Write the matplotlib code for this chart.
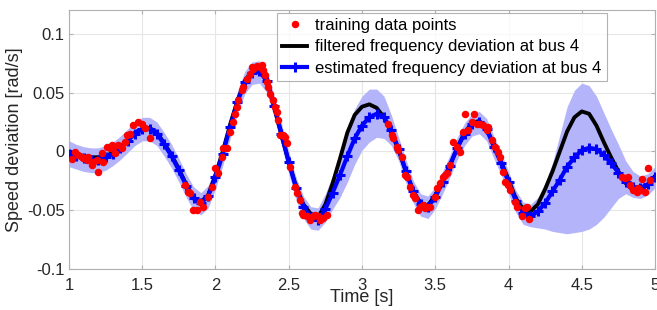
import numpy as np
import matplotlib
matplotlib.use("Agg")
import matplotlib.pyplot as plt

plt.rcParams["font.family"] = ["Liberation Sans", "DejaVu Sans"]

# time grid of the curves (s)
t = np.linspace(1.0, 5.0, 81)

filtered = [
    0.000, -0.002, -0.004, -0.005, -0.005, -0.004, -0.001, 0.004, 0.010, 0.016,
    0.019, 0.020, 0.016, 0.007, -0.003, -0.015, -0.028, -0.039, -0.043, -0.037,
    -0.020, 0.000, 0.023, 0.043, 0.060, 0.068, 0.069, 0.060, 0.038, 0.014,
    -0.009, -0.030, -0.045, -0.053, -0.056, -0.045, -0.027, -0.006, 0.016, 0.031,
    0.038, 0.040, 0.037, 0.029, 0.016, 0.001, -0.017, -0.034, -0.044, -0.046,
    -0.037, -0.025, -0.012, 0.003, 0.016, 0.024, 0.026, 0.020, 0.005, -0.009,
    -0.024, -0.040, -0.049, -0.051, -0.045, -0.032, -0.017, 0.000, 0.017, 0.029,
    0.034, 0.032, 0.022, 0.008, -0.005, -0.017, -0.027, -0.033, -0.033, -0.028,
    -0.021,
]

estimated = [
    -0.002, -0.004, -0.006, -0.007, -0.007, -0.005, -0.002, 0.003, 0.009, 0.015,
    0.019, 0.019, 0.015, 0.006, -0.004, -0.016, -0.029, -0.040, -0.044, -0.038,
    -0.022, -0.002, 0.021, 0.042, 0.059, 0.067, 0.068, 0.060, 0.039, 0.015,
    -0.009, -0.031, -0.047, -0.056, -0.058, -0.049, -0.035, -0.020, -0.004, 0.011,
    0.022, 0.029, 0.032, 0.029, 0.018, 0.002, -0.017, -0.034, -0.045, -0.047,
    -0.039, -0.026, -0.012, 0.003, 0.015, 0.023, 0.025, 0.019, 0.004, -0.010,
    -0.026, -0.042, -0.052, -0.055, -0.051, -0.044, -0.034, -0.024, -0.013, -0.005,
    0.001, 0.003, 0.002, -0.003, -0.010, -0.018, -0.026, -0.030, -0.031, -0.028,
    -0.022,
]

band_upper = [
    0.009, 0.006, 0.004, 0.003, 0.003, 0.005, 0.008, 0.013, 0.019, 0.025,
    0.029, 0.029, 0.025, 0.016, 0.006, -0.006, -0.019, -0.030, -0.035, -0.029,
    -0.013, 0.007, 0.030, 0.051, 0.068, 0.076, 0.077, 0.069, 0.048, 0.024,
    0.000, -0.022, -0.038, -0.047, -0.048, -0.036, -0.020, 0.000, 0.020, 0.036,
    0.047, 0.053, 0.053, 0.047, 0.031, 0.012, -0.007, -0.025, -0.036, -0.038,
    -0.030, -0.017, -0.003, 0.012, 0.024, 0.032, 0.034, 0.028, 0.013, -0.001,
    -0.017, -0.033, -0.043, -0.045, -0.039, -0.027, -0.010, 0.014, 0.038, 0.052,
    0.058, 0.056, 0.047, 0.033, 0.019, 0.006, -0.008, -0.017, -0.021, -0.019,
    -0.013,
]

band_lower = [
    -0.013, -0.015, -0.017, -0.018, -0.018, -0.016, -0.012, -0.007, -0.001, 0.005,
    0.009, 0.009, 0.005, -0.004, -0.014, -0.026, -0.039, -0.050, -0.054, -0.048,
    -0.032, -0.012, 0.011, 0.032, 0.049, 0.057, 0.058, 0.050, 0.029, 0.005,
    -0.019, -0.041, -0.057, -0.066, -0.067, -0.060, -0.049, -0.039, -0.026, -0.011,
    0.001, 0.008, 0.012, 0.011, 0.005, -0.008, -0.027, -0.044, -0.055, -0.057,
    -0.049, -0.036, -0.022, -0.007, 0.005, 0.013, 0.015, 0.009, -0.006, -0.020,
    -0.036, -0.052, -0.062, -0.064, -0.065, -0.066, -0.068, -0.069, -0.070, -0.069,
    -0.068, -0.066, -0.062, -0.056, -0.048, -0.040, -0.036, -0.039, -0.040, -0.037,
    -0.031,
]

# training data points
train_t = [
    1.018, 1.041, 1.064, 1.087, 1.098, 1.121, 1.132, 1.155, 1.166, 1.189,
    1.200, 1.223, 1.234, 1.257, 1.280, 1.291, 1.302, 1.314, 1.337, 1.360,
    1.382, 1.394, 1.416, 1.439, 1.473, 1.496, 1.519, 1.553,
    1.792, 1.814, 1.826, 1.849, 1.872, 1.894, 1.917, 1.951, 1.974, 1.997,
    2.019, 2.042, 2.053, 2.076, 2.099, 2.122,
    2.133, 2.145, 2.156, 2.179, 2.190, 2.213, 2.235, 2.247, 2.258, 2.281,
    2.304, 2.315, 2.326, 2.338, 2.349, 2.360, 2.372, 2.395, 2.406, 2.418,
    2.429, 2.440, 2.463, 2.474, 2.486, 2.509, 2.543, 2.554, 2.577, 2.588,
    2.599, 2.622, 2.645, 2.668, 2.679, 2.702, 2.713, 2.736, 2.759,
    3.180, 3.203, 3.214, 3.237, 3.248, 3.271, 3.294, 3.305, 3.328, 3.351,
    3.362, 3.384, 3.396, 3.418, 3.430, 3.441, 3.464, 3.498, 3.510, 3.532,
    3.555, 3.567, 3.578, 3.601, 3.623, 3.646,
    3.669, 3.692, 3.703, 3.726, 3.749, 3.765, 3.783, 3.805, 3.828, 3.851,
    3.862, 3.885, 3.908, 3.930, 3.942, 3.965, 3.976, 3.999, 4.010, 4.044,
    4.056, 4.090, 4.113, 4.124, 4.142,
    4.773, 4.795, 4.818, 4.829, 4.852, 4.874, 4.886, 4.898, 4.909, 4.932,
    4.955, 4.966,
]
train_y = [
    -0.0065, -0.0003, -0.0031, -0.0045, -0.0059, -0.0073, -0.0045, -0.0116, -0.0087, -0.0073,
    -0.0172, -0.0017, -0.0087, 0.0040, 0.0025, 0.0054, 0.0040, -0.0017, 0.0054, 0.0025,
    0.0082, 0.0138, 0.0152, 0.0223, 0.0251, 0.0237, 0.0195, 0.0110,
    -0.0285, -0.0341, -0.0356, -0.0497, -0.0497, -0.0426, -0.0469, -0.0384, -0.0299, -0.0144,
    -0.0186, -0.0045, 0.0025, 0.0025, 0.0167, 0.0251,
    0.0322, 0.0378, 0.0435, 0.0520, 0.0548, 0.0618, 0.0661, 0.0717, 0.0703, 0.0723,
    0.0717, 0.0731, 0.0689, 0.0646, 0.0590, 0.0548, 0.0491, 0.0435, 0.0378, 0.0336,
    0.0265, 0.0138, 0.0138, 0.0124, 0.0068, -0.0130, -0.0299, -0.0356, -0.0412, -0.0525,
    -0.0539, -0.0553, -0.0582, -0.0553, -0.0539, -0.0553, -0.0582, -0.0567, -0.0539,
    0.0237, 0.0138, 0.0110, 0.0040, 0.0011, -0.0045, -0.0200, -0.0214, -0.0299, -0.0370,
    -0.0398, -0.0497, -0.0469, -0.0455, -0.0483, -0.0469, -0.0469, -0.0384, -0.0313, -0.0271,
    -0.0214, -0.0200, -0.0186, -0.0116, 0.0082, 0.0040,
    -0.0003, 0.0167, 0.0322, 0.0181, 0.0251, 0.0322, 0.0237, 0.0237, 0.0223, 0.0181,
    0.0209, 0.0096, 0.0040, -0.0003, -0.0045, -0.0172, -0.0257, -0.0285, -0.0327, -0.0426,
    -0.0469, -0.0553, -0.0483, -0.0469, -0.0573,
    -0.0214, -0.0229, -0.0214, -0.0285, -0.0327, -0.0341, -0.0313, -0.0327, -0.0234, -0.0341,
    -0.0144, -0.0243,
]

x_ticks = [1, 1.5, 2, 2.5, 3, 3.5, 4, 4.5, 5]
x_tick_labels = ["1", "1.5", "2", "2.5", "3", "3.5", "4", "4.5", "5"]
y_ticks = [-0.1, -0.05, 0, 0.05, 0.1]
y_tick_labels = ["-0.1", "-0.05", "0", "0.05", "0.1"]

fig = plt.figure(figsize=(6.57, 3.10), dpi=100)
ax = fig.add_axes([0.105, 0.132, 0.892, 0.835])

ax.fill_between(t, band_lower, band_upper, color="#b4b4fb", linewidth=0, zorder=1)
ax.plot(t, filtered, color="black", lw=2.8, zorder=2,
        label="filtered frequency deviation at bus 4")
ax.plot(t, estimated, color="#0000ff", lw=3.0, marker="+", ms=6.5, mew=2.2,
        zorder=3, label="estimated frequency deviation at bus 4")
ax.plot(train_t, train_y, "o", color="#ff0000", ms=5.4, mec="none", zorder=4,
        label="training data points")

ax.set_xlim(1, 5)
ax.set_ylim(-0.1, 0.12)
ax.set_xticks(x_ticks)
ax.set_xticklabels(x_tick_labels)
ax.set_yticks(y_ticks)
ax.set_yticklabels(y_tick_labels)
ax.grid(True, color="#e6e6e6", lw=0.8)
ax.set_axisbelow(True)
for s in ax.spines.values():
    s.set_color("#b0b0b0")
    s.set_linewidth(0.8)
ax.tick_params(direction="in", length=3, color="#b0b0b0", labelsize=12,
               labelcolor="#262626", top=True, right=True)
ax.tick_params(axis="x", pad=6.5)
ax.tick_params(axis="y", pad=3)

ax.set_xlabel("Time [s]", fontsize=13, color="#262626", labelpad=-3)
ax.set_ylabel("Speed deviation [rad/s]", fontsize=13, color="#262626", labelpad=3)

handles, labels = ax.get_legend_handles_labels()
order = [2, 0, 1]
leg = ax.legend([handles[i] for i in order], [labels[i] for i in order],
                loc="upper left", bbox_to_anchor=(0.355, 0.99), fontsize=12,
                frameon=True, fancybox=False, edgecolor="#a0a0a0",
                handlelength=1.5, handletextpad=0.5, labelspacing=0.4,
                borderpad=0.3, borderaxespad=0)
leg.get_frame().set_linewidth(0.8)

fig.savefig("out.png", dpi=100)
